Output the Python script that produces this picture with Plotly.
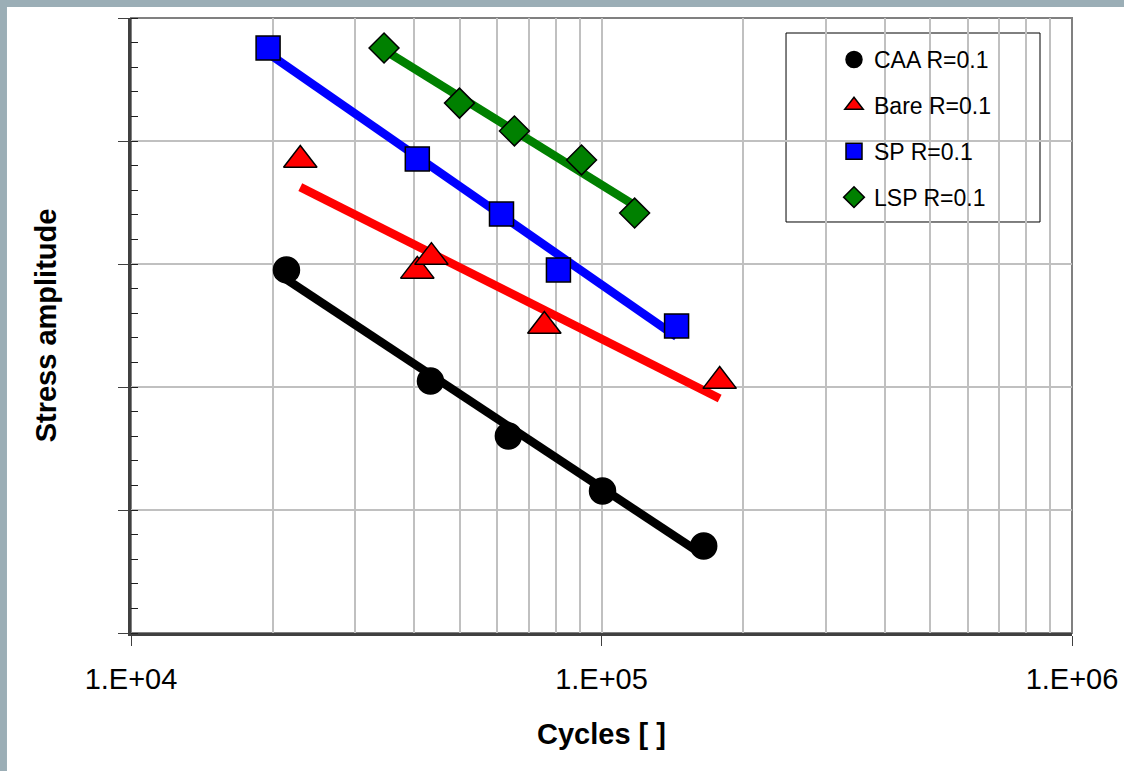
import numpy as np
import plotly.graph_objects as go

# S-N data: cycles to failure and stress amplitude (arbitrary units)
caa_cycles = [21400, 43300, 63400, 100500, 164900]
caa_stress = [147.6, 102.4, 80.1, 57.7, 35.4]

bare_cycles = [22900, 40600, 43500, 75600, 178300]
bare_stress = [192.3, 147.2, 152.8, 124.8, 102.4]

sp_cycles = [19560, 40600, 61300, 81000, 144400]
sp_stress = [237.8, 192.7, 170.3, 147.6, 124.8]

lsp_cycles = [34500, 49900, 65300, 90700, 117600]
lsp_stress = [237.8, 215.4, 204.1, 192.3, 170.7]

series_names = ["CAA R=0.1", "Bare R=0.1", "SP R=0.1", "LSP R=0.1"]
x_tick_vals = [1e4, 1e5, 1e6]
x_tick_text = ["1.E+04", "1.E+05", "1.E+06"]

FONT = "Arial, Liberation Sans, sans-serif"

series = [
    (series_names[0], caa_cycles, caa_stress, "black", "circle", 26),
    (series_names[1], bare_cycles, bare_stress, "red", "triangle-up", 29),
    (series_names[2], sp_cycles, sp_stress, "blue", "square", 24),
    (series_names[3], lsp_cycles, lsp_stress, "green", "diamond", 23),
]

fig = go.Figure()

# Logarithmic trendlines (S = a*log10(N) + b) over each series' range
for name, n, s, color, _, _ in series:
    logn = np.log10(n)
    a, b = np.polyfit(logn, s, 1)
    xs = np.array([min(n), max(n)])
    fig.add_trace(go.Scatter(
        x=xs, y=a * np.log10(xs) + b, mode="lines",
        line=dict(color=color, width=8.5), showlegend=False, hoverinfo="skip"))

# Measured points
for i, (name, n, s, color, symbol, size) in enumerate(series):
    fig.add_trace(go.Scatter(
        x=n, y=s, mode="markers", name=name, legendgroup=f"g{i}",
        marker=dict(color=color, symbol=symbol, size=size,
                    line=dict(color="black", width=1.5))))

minor_vals = [m * 10 ** d for d in (4, 5) for m in range(2, 10)]

fig.update_xaxes(
    type="log", range=[4, 6], automargin=False,
    tickmode="array", tickvals=x_tick_vals, ticktext=x_tick_text,
    ticks="outside", ticklen=10, tickcolor="#404040", tickwidth=1,
    showgrid=True, gridcolor="#c0c0c0", gridwidth=1.5,
    minor=dict(tickmode="array", tickvals=minor_vals, showgrid=True,
               gridcolor="#c0c0c0", gridwidth=1.5, ticks=""),
    showline=True, linecolor="#404040", linewidth=3,
    tickfont=dict(family=FONT, size=29, color="black"),
    ticklabelstandoff=8,
    title=dict(text="<b>Cycles [ ]</b>", font=dict(family=FONT, size=29, color="black"),
               standoff=30),
    zeroline=False,
)

fig.update_yaxes(
    range=[0, 250], tick0=0, dtick=50, automargin=False,
    ticks="outside", ticklen=10, tickcolor="#404040", tickwidth=1,
    showticklabels=False,
    showgrid=True, gridcolor="#c0c0c0", gridwidth=1.5,
    minor=dict(dtick=10, ticks="inside", ticklen=7, tickcolor="#202020",
               tickwidth=1, showgrid=False),
    showline=True, linecolor="#404040", linewidth=3,
    title=dict(text="<b>Stress amplitude</b>", font=dict(family=FONT, size=29, color="black"),
               standoff=53),
    zeroline=False,
)

shapes = [
    # top / right frame of the plot area
    dict(type="rect", xref="paper", yref="paper", x0=0, x1=1, y0=0, y1=1,
         line=dict(color="#808080", width=2), layer="below"),
    # legend box
    dict(type="rect", xref="paper", yref="paper",
         x0=0.6961, x1=0.966, y0=0.6683, y1=0.9756,
         line=dict(color="black", width=1), fillcolor="white", layer="between"),
    # slide border strips
    dict(type="rect", xref="paper", yref="paper",
         x0=-0.15, x1=1.06, y0=1.0179, y1=1.04,
         line=dict(width=0), fillcolor="#9BAEB6", layer="above"),
    dict(type="rect", xref="paper", yref="paper",
         x0=-0.15, x1=-0.1318, y0=-0.26, y1=1.04,
         line=dict(width=0), fillcolor="#9BAEB6", layer="above"),
]

fig.update_layout(
    width=1124, height=771,
    margin=dict(l=131, r=52, t=18, b=138),
    paper_bgcolor="white", plot_bgcolor="white",
    shapes=shapes,
    legend=dict(
        x=(834 - 131) / 941, y=(633 - 38) / 615, xanchor="left", yanchor="top",
        bgcolor="rgba(0,0,0,0)", borderwidth=0,
        font=dict(family=FONT, size=23, color="black"),
        traceorder="grouped", tracegroupgap=13, itemwidth=30,
    ),
    font=dict(family=FONT),
)

fig.write_html("out.html")
